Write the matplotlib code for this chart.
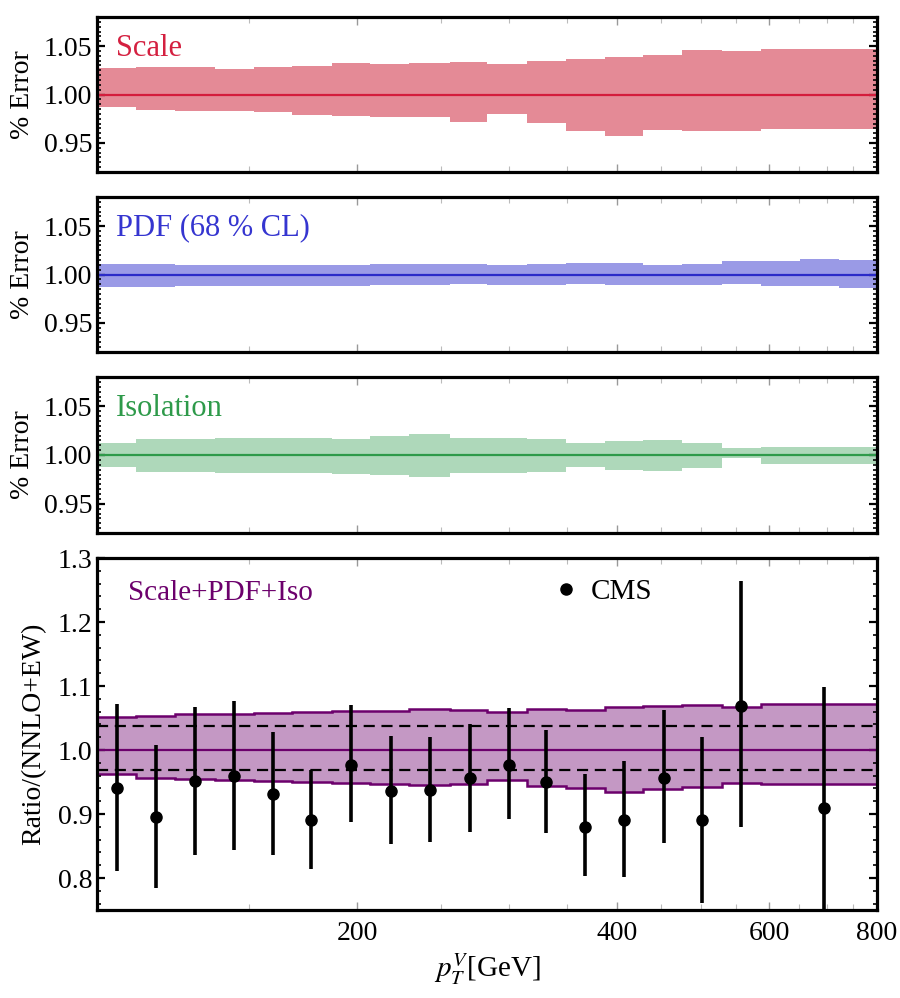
import numpy as np
import matplotlib
matplotlib.use("Agg")
import matplotlib.pyplot as plt
from matplotlib.ticker import FixedLocator, NullFormatter, MultipleLocator, FormatStrFormatter
from matplotlib.lines import Line2D

plt.rcParams['font.family'] = ['Liberation Serif', 'DejaVu Serif']
plt.rcParams['mathtext.fontset'] = 'stix'

# bin edges in pT [GeV]
edges = [100, 111, 123, 137, 152, 168, 187, 207, 230, 256, 283, 315,
         349, 387, 429, 476, 529, 587, 651, 722, 800]

# relative uncertainties per bin (up / down)
scale_up = [0.027, 0.028, 0.028, 0.026, 0.028, 0.0295, 0.033, 0.031, 0.033, 0.034,
            0.032, 0.035, 0.037, 0.039, 0.041, 0.046, 0.045, 0.047, 0.047, 0.047]
scale_dn = [0.013, 0.016, 0.017, 0.017, 0.018, 0.021, 0.022, 0.023, 0.023, 0.028,
            0.020, 0.029, 0.038, 0.043, 0.037, 0.038, 0.0375, 0.036, 0.036, 0.036]

pdf_up = [0.011, 0.0105, 0.0103, 0.010, 0.010, 0.0098, 0.010, 0.0105, 0.011, 0.0111,
          0.0094, 0.0104, 0.0118, 0.0118, 0.0101, 0.0111, 0.0139, 0.0139, 0.0163, 0.0146]
pdf_dn = [0.013, 0.0125, 0.0122, 0.012, 0.012, 0.0118, 0.0115, 0.011, 0.011, 0.0097,
          0.0108, 0.0108, 0.0097, 0.0104, 0.0108, 0.0108, 0.0101, 0.0115, 0.0122, 0.0139]

iso_up = [0.0122, 0.0163, 0.0163, 0.0177, 0.0177, 0.0177, 0.0165, 0.0194, 0.0212, 0.0177,
          0.0175, 0.016, 0.0122, 0.0146, 0.0153, 0.012, 0.0069, 0.0083, 0.0083, 0.0083]
iso_dn = [0.0128, 0.0174, 0.0174, 0.0188, 0.0188, 0.0188, 0.019, 0.0208, 0.0222, 0.018,
          0.018, 0.017, 0.0128, 0.015, 0.016, 0.013, 0.0035, 0.009, 0.009, 0.009]

# combined band (ratio)
tot_hi = [1.051, 1.0536, 1.0557, 1.0567, 1.0578, 1.0589, 1.0604, 1.0615, 1.0646, 1.0625,
          1.060, 1.064, 1.062, 1.0667, 1.0688, 1.0708, 1.0667, 1.072, 1.072, 1.072]
tot_lo = [0.9625, 0.9557, 0.9547, 0.9536, 0.9516, 0.9495, 0.9484, 0.9464, 0.9453, 0.947,
          0.9536, 0.944, 0.9406, 0.934, 0.939, 0.9417, 0.948, 0.9464, 0.9464, 0.9464]
norm_band = [0.969, 1.037]

# CMS data
cms_pt = [105.5, 117, 130, 144, 160, 177, 197, 219, 243, 270, 300, 331, 367, 407, 453, 502, 557, 694]
cms_val = [0.940, 0.895, 0.951, 0.959, 0.931, 0.891, 0.977, 0.936, 0.938, 0.956,
           0.977, 0.950, 0.880, 0.891, 0.957, 0.890, 1.069, 0.910]
cms_hi = [1.072, 1.008, 1.067, 1.076, 1.028, 0.969, 1.070, 1.022, 1.021, 1.041,
          1.066, 1.032, 0.963, 0.983, 1.062, 1.020, 1.264, 1.098]
cms_lo = [0.811, 0.785, 0.836, 0.844, 0.836, 0.814, 0.888, 0.853, 0.857, 0.872,
          0.892, 0.870, 0.803, 0.802, 0.855, 0.761, 0.879, 0.700]

fig = plt.figure(figsize=(9, 9.98), dpi=100)
L, W = 97 / 900, 780 / 900
H = 998


def make_ax(top_px, bot_px):
    return fig.add_axes([L, 1 - bot_px / H, W, (bot_px - top_px) / H])


def style(ax, bottom=False):
    ax.set_xscale('log')
    ax.set_xlim(100, 800)
    ax.xaxis.set_major_locator(FixedLocator([200, 400, 600, 800]))
    ax.xaxis.set_minor_locator(FixedLocator([150, 250, 300, 350, 450, 500, 550, 650, 700, 750]))
    ax.xaxis.set_minor_formatter(NullFormatter())
    if bottom:
        ax.xaxis.set_major_formatter(FormatStrFormatter('%d'))
    else:
        ax.xaxis.set_major_formatter(NullFormatter())
    for s in ax.spines.values():
        s.set_linewidth(2.3)
    ax.tick_params(which='both', direction='in', top=True, right=True, labelsize=20)
    ax.tick_params(which='major', axis='y', length=6, width=1.6)
    ax.tick_params(which='minor', axis='y', length=3, width=1.2)
    ax.tick_params(which='major', axis='x', length=6, width=1.0, color='#999999', pad=8)
    ax.tick_params(which='minor', axis='x', length=4, width=0.8, color='#bbbbbb')


panels = [
    (17, 172, scale_up, scale_dn, '#e48a96', '#d41c3c', 'Scale', '#d42040'),
    (197, 352, pdf_up, pdf_dn, '#9a9ae6', '#2a2ac8', 'PDF (68 % CL)', '#3535d0'),
    (377, 533, iso_up, iso_dn, '#aed8ba', '#2e9a4a', 'Isolation', '#2e9a4a'),
]

for top, bot, up, dn, fc, lc, name, tc in panels:
    ax = make_ax(top, bot)
    ax.stairs(1 + np.array(up), edges, baseline=1 - np.array(dn), fill=True,
              color=fc, lw=0)
    ax.axhline(1.0, color=lc, lw=1.6)
    style(ax)
    ax.set_ylim(0.92, 1.08)
    ax.yaxis.set_major_locator(FixedLocator([0.95, 1.00, 1.05]))
    ax.yaxis.set_major_formatter(FormatStrFormatter('%.2f'))
    ax.yaxis.set_minor_locator(MultipleLocator(0.005))
    ax.set_ylabel('% Error', fontsize=20, labelpad=6)
    ax.text(0.024, 0.8, name, transform=ax.transAxes, color=tc, fontsize=22,
            va='center', ha='left')

ax = make_ax(558, 910)
ax.stairs(tot_hi, edges, baseline=tot_lo, fill=True, color='#c498c4', lw=0)
ax.stairs(tot_hi, edges, baseline=None, color='#6c006c', lw=1.8)
ax.stairs(tot_lo, edges, baseline=None, color='#6c006c', lw=1.8)
ax.axhline(1.0, color='#6c006c', lw=1.6)
for v in norm_band:
    ax.axhline(v, color='black', lw=1.6, ls=(0, (5, 3)))

val = np.array(cms_val)
yerr = [val - np.array(cms_lo), np.array(cms_hi) - val]
ax.errorbar(cms_pt, cms_val, yerr=yerr, fmt='o', color='black', ms=8,
            elinewidth=2.6, capsize=0, zorder=5, clip_on=True)

style(ax, bottom=True)
ax.set_ylim(0.75, 1.3)
ax.yaxis.set_major_locator(FixedLocator([0.8, 0.9, 1.0, 1.1, 1.2, 1.3]))
ax.yaxis.set_major_formatter(FormatStrFormatter('%.1f'))
ax.yaxis.set_minor_locator(MultipleLocator(0.02))
ax.set_ylabel('Ratio/(NNLO+EW)', fontsize=20, labelpad=8)
ax.set_xlabel(r'$p_T^V$[GeV]', fontsize=21, labelpad=4)
ax.text(0.04, 0.9, 'Scale+PDF+Iso', transform=ax.transAxes, color='#6c006c',
        fontsize=21, va='center', ha='left')
h = Line2D([], [], marker='o', color='black', ls='none', ms=8)
ax.legend([h], ['CMS'], loc='center left', bbox_to_anchor=(0.586, 0.903),
          frameon=False, fontsize=21, handlelength=0.8, handletextpad=0.45,
          borderpad=0, borderaxespad=0)

fig.savefig('out.png', dpi=100)
